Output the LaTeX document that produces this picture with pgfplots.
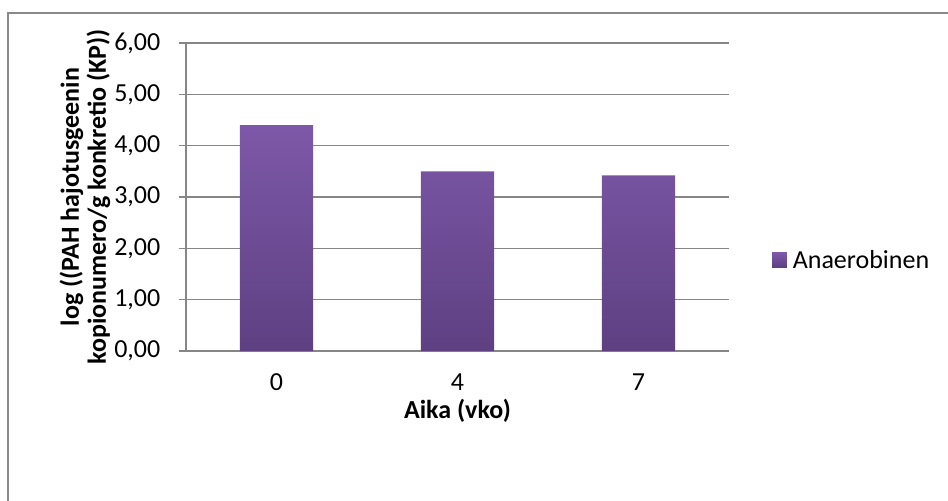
\documentclass[border=0pt]{standalone}
\usepackage{fontspec}
\setmainfont{Carlito}
\usepackage{pgfplots}
\pgfplotsset{compat=1.18}
\definecolor{gridgray}{RGB}{134,134,134}
\definecolor{framegray}{RGB}{137,137,137}
\definecolor{bartop}{RGB}{125,88,168}
\definecolor{barbot}{RGB}{94,64,130}
\newcommand{\chartfont}{\fontsize{19.5}{24}\selectfont}

\begin{document}
\begin{tikzpicture}
% page area and the chart frame, which runs past the right and bottom edges
\useasboundingbox (0pt,0pt) rectangle (711pt,-375pt);
\draw[framegray, line width=1.1pt] (6pt,-9.75pt) rectangle (730pt,-390pt);
\begin{axis}[
  at={(139.5pt,-263.25pt)}, anchor=south west,
  scale only axis, width=407.25pt, height=231pt,
  xmin=-0.5, xmax=2.5, ymin=0, ymax=6,
  xtick={0,1,2}, xticklabels={0,4,7},
  ytick={0,1,2,3,4,5,6},
  axis lines=left,
  axis line style={gridgray, line width=1.1pt, -},
  ymajorgrids,
  grid style={gridgray, line width=1.1pt},
  tick align=outside,
  major tick length=5.25pt,
  xtick style={draw=none},
  ytick style={gridgray, line width=1.1pt},
  /pgf/number format/assume math mode=true,
  yticklabel style={/pgf/number format/.cd, fixed, fixed zerofill, precision=2, use comma,
                    /tikz/.cd, xshift=-10.5pt},
  xticklabel style={yshift=-8pt},
  ticklabel style={font=\chartfont, text=black},
  xlabel={Aika (vko)},
  ylabel={log ((PAH hajotusgeenin\\kopionumero/g konkretio (KP))},
  xlabel style={font=\bfseries\chartfont, at={(axis description cs:0.5,-0.195)}, anchor=center},
  ylabel style={font=\bfseries\fontsize{19.5}{20.2}\selectfont, align=center,
                at={(axis description cs:-0.186,0.5)}, anchor=center},
  legend style={at={(axis description cs:1.079,0.295)}, anchor=west,
                draw=none, fill=none, inner sep=0pt, font=\chartfont,
                nodes={inner sep=2pt}},
  legend image code/.code={\path[top color=bartop, bottom color=barbot] (0pt,-5.5pt) rectangle (11pt,5.5pt);
                           \path (13.5pt,0pt);},
]
\addplot[ybar, bar width=0.405, draw=none, top color=bartop, bottom color=barbot]
  coordinates {(0,4.40) (1,3.50) (2,3.42)};
\addlegendentry{Anaerobinen}
\end{axis}
\end{tikzpicture}
\end{document}
